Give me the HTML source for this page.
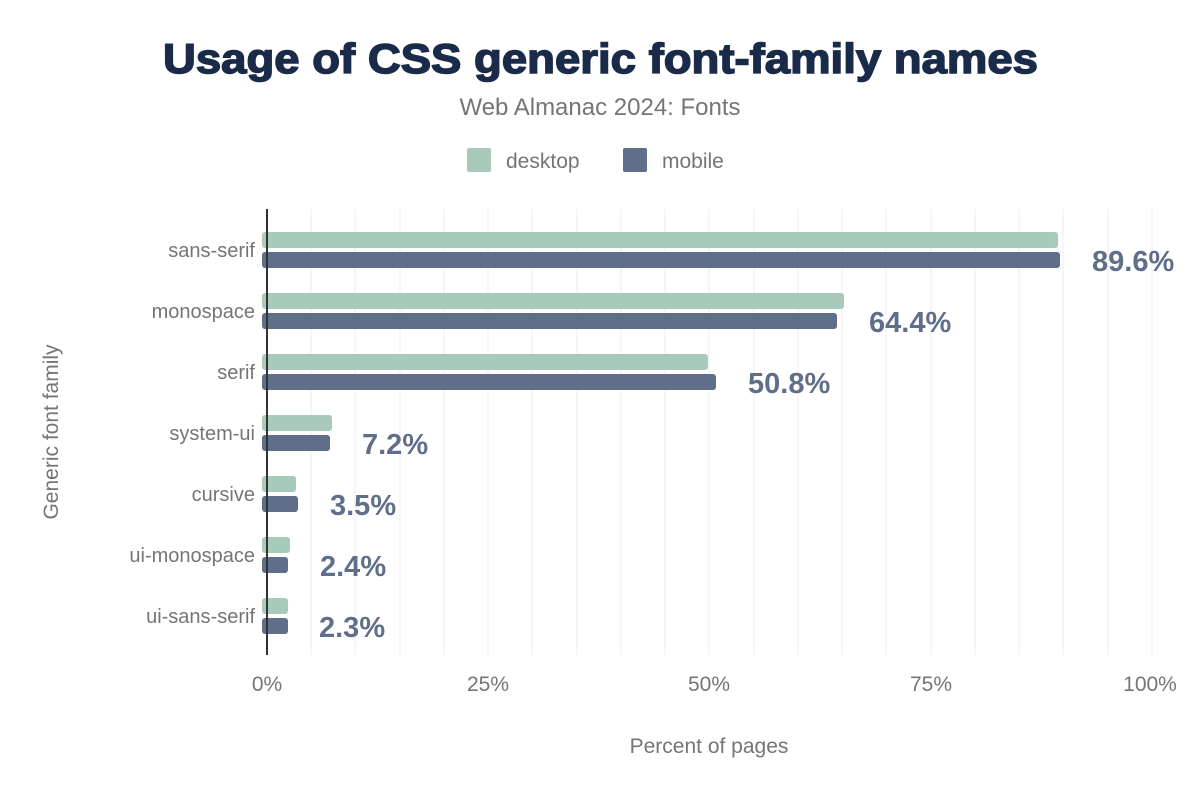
<!DOCTYPE html>
<html><head><meta charset="utf-8"><style>body{margin:0;background:#fff}</style></head><body>
<svg width="1200" height="800" xmlns="http://www.w3.org/2000/svg" font-family="Liberation Sans, sans-serif">
<text x="163" y="73" textLength="875" lengthAdjust="spacingAndGlyphs" font-size="42" font-weight="bold" fill="#1a2b49" stroke="#1a2b49" stroke-width="1.5">Usage of CSS generic font-family names</text>
<text x="600" y="115" text-anchor="middle" font-size="24" fill="#757575">Web Almanac 2024: Fonts</text>
<rect x="467" y="148" width="24" height="24" rx="2" fill="#a8cabb"/>
<text x="506" y="168" font-size="21" fill="#757575">desktop</text>
<rect x="623" y="148" width="24" height="24" rx="2" fill="#5f6f8a"/>
<text x="662" y="168" font-size="21" fill="#757575">mobile</text>
<g stroke="#eeeeee" stroke-width="1">
<line x1="311" y1="209" x2="311" y2="655"/><line x1="355" y1="209" x2="355" y2="655"/><line x1="400" y1="209" x2="400" y2="655"/><line x1="444" y1="209" x2="444" y2="655"/><line x1="488" y1="209" x2="488" y2="655"/><line x1="532" y1="209" x2="532" y2="655"/><line x1="577" y1="209" x2="577" y2="655"/><line x1="621" y1="209" x2="621" y2="655"/><line x1="665" y1="209" x2="665" y2="655"/><line x1="709" y1="209" x2="709" y2="655"/><line x1="754" y1="209" x2="754" y2="655"/><line x1="798" y1="209" x2="798" y2="655"/><line x1="842" y1="209" x2="842" y2="655"/><line x1="886" y1="209" x2="886" y2="655"/><line x1="931" y1="209" x2="931" y2="655"/><line x1="975" y1="209" x2="975" y2="655"/><line x1="1019" y1="209" x2="1019" y2="655"/><line x1="1063" y1="209" x2="1063" y2="655"/><line x1="1108" y1="209" x2="1108" y2="655"/><line x1="1152" y1="209" x2="1152" y2="655"/>
</g>
<g fill="#a8cabb">
<rect x="262" y="232" width="796" height="16" rx="3"/>
<rect x="262" y="293" width="582" height="16" rx="3"/>
<rect x="262" y="354" width="446" height="16" rx="3"/>
<rect x="262" y="415" width="70" height="16" rx="3"/>
<rect x="262" y="476" width="34" height="16" rx="3"/>
<rect x="262" y="537" width="28" height="16" rx="3"/>
<rect x="262" y="598" width="26" height="16" rx="3"/>
</g>
<g fill="#5f6f8a">
<rect x="262" y="252" width="798" height="16" rx="3"/>
<rect x="262" y="313" width="575" height="16" rx="3"/>
<rect x="262" y="374" width="454" height="16" rx="3"/>
<rect x="262" y="435" width="68" height="16" rx="3"/>
<rect x="262" y="496" width="36" height="16" rx="3"/>
<rect x="262" y="557" width="26" height="16" rx="3"/>
<rect x="262" y="618" width="26" height="16" rx="3"/>
</g>
<line x1="267" y1="209" x2="267" y2="655" stroke="#333" stroke-width="2"/>
<g font-size="29" font-weight="bold" fill="#5f6f8a">
<text x="1092" y="271">89.6%</text>
<text x="869" y="332">64.4%</text>
<text x="748" y="393">50.8%</text>
<text x="362" y="454">7.2%</text>
<text x="330" y="515">3.5%</text>
<text x="320" y="576">2.4%</text>
<text x="319" y="637">2.3%</text>
</g>
<g font-size="20" fill="#757575" text-anchor="end">
<text x="255" y="257">sans-serif</text>
<text x="255" y="318">monospace</text>
<text x="255" y="379">serif</text>
<text x="255" y="440">system-ui</text>
<text x="255" y="501">cursive</text>
<text x="255" y="562">ui-monospace</text>
<text x="255" y="623">ui-sans-serif</text>
</g>
<g font-size="21" fill="#757575" text-anchor="middle">
<text x="267" y="691">0%</text>
<text x="488" y="691">25%</text>
<text x="709" y="691">50%</text>
<text x="931" y="691">75%</text>
<text x="1150" y="691">100%</text>
<text x="709" y="753">Percent of pages</text>
<text transform="translate(58,432) rotate(-90)">Generic font family</text>
</g>
</svg>
</body></html>
